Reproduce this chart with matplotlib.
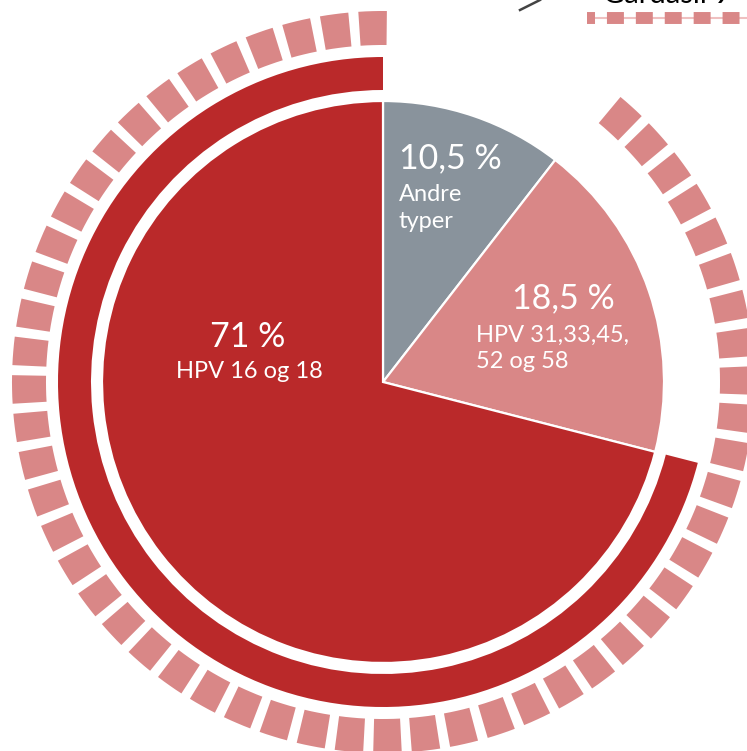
import numpy as np
import matplotlib
matplotlib.use("Agg")
import matplotlib.pyplot as plt
from matplotlib.patches import Wedge

# data
shares = [10.5, 18.5, 71]
pct_labels = ["10,5 %", "18,5 %", "71 %"]
type_labels = ["Andre\ntyper", "HPV 31,33,45,\n52 og 58", "HPV 16 og 18"]
colors = ["#89939c", "#d98787", "#ba292a"]
legend_label = "Gardasil 9"

plt.rcParams['font.family'] = ['Lato', 'DejaVu Sans']

fig = plt.figure(figsize=(7.47, 7.51), dpi=100)
ax = fig.add_axes([0, 0, 1, 1])
ax.axis('off')

# inner pie, clockwise from 12 o'clock
ax.pie(shares, colors=colors, startangle=90, counterclock=False, radius=281,
       wedgeprops=dict(edgecolor='white', linewidth=1.6))
ax.set_xlim(-383, 364)
ax.set_ylim(-369, 382)
ax.set_aspect('equal')

# cumulative angles, clockwise from top
cum = np.cumsum([0] + shares) / 100 * 360

# solid ring over the 71 % slice
ax.add_patch(Wedge((0, 0), 325, 90 - cum[3], 90 - cum[2], width=33,
                   color=colors[2], lw=0))

# dashed ring over what Gardasil 9 covers (18.5 + 71)
n_dash = 54
end = cum[3] + 0.6
period = (end - (cum[1] + 2.0)) / (n_dash - 1 + 0.74)
w = period * 0.74
for k in range(n_dash):
    a2 = end - k * period
    ax.add_patch(Wedge((0, 0), 371, 90 - a2, 90 - (a2 - w), width=34,
                       color=colors[1], lw=0))

# labels
big = dict(color='white', fontsize=24.5, va='center')
small = dict(color='white', fontsize=17, va='center', linespacing=1.3)
ax.text(16, 224, pct_labels[0], ha='left', **big)
ax.text(16, 174, type_labels[0], ha='left', **small)
ax.text(180, 84, pct_labels[1], ha='center', **big)
ax.text(93, 34, type_labels[1], ha='left', **small)
ax.text(-135, 45, pct_labels[2], ha='center', **big)
ax.text(-134, 10, type_labels[2], ha='center', **small)

# legend fragment at the top edge
ax.plot([204, 370], [364, 364], color='#efc0c0', lw=1.5, solid_capstyle='butt')
ax.plot([204, 370], [364, 364], color=colors[1], lw=8.6, dash_capstyle='butt',
        linestyle=(0.75, (1.42, 1.0)))
ax.plot([137, 157], [372, 382], color='#444444', lw=1.8)
ax.text(220, 379, legend_label, color='black', fontsize=21, ha='left', va='baseline')

fig.savefig("out.png", dpi=100)
